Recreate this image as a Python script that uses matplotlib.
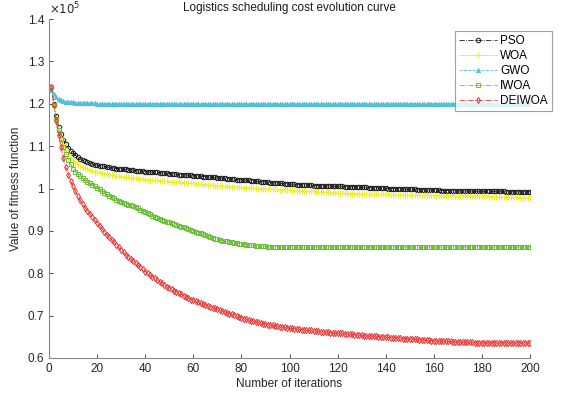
import matplotlib
matplotlib.use("Agg")
import matplotlib.pyplot as plt
from matplotlib.ticker import FuncFormatter, MultipleLocator

plt.rcParams['font.family'] = ['Liberation Sans', 'DejaVu Sans']

iterations = list(range(1, 201))
series_names = ["PSO", "WOA", "GWO", "IWOA", "DEIWOA"]

# values in units of 1e5
pso = [
    1.240, 1.200, 1.170, 1.146, 1.128, 1.115, 1.104, 1.096, 1.089, 1.083,
    1.078, 1.074, 1.070, 1.067, 1.064, 1.062, 1.060, 1.058, 1.056, 1.055,
    1.054, 1.053, 1.052, 1.051, 1.050, 1.049, 1.048, 1.047, 1.047, 1.046,
    1.045, 1.045, 1.044, 1.044, 1.043, 1.042, 1.042, 1.041, 1.041, 1.040,
    1.040, 1.039, 1.039, 1.038, 1.038, 1.037, 1.037, 1.036, 1.036, 1.035,
    1.035, 1.034, 1.034, 1.033, 1.033, 1.032, 1.032, 1.031, 1.031, 1.030,
    1.030, 1.029, 1.029, 1.028, 1.028, 1.027, 1.027, 1.026, 1.026, 1.025,
    1.025, 1.024, 1.024, 1.023, 1.023, 1.022, 1.022, 1.021, 1.021, 1.020,
    1.020, 1.019, 1.019, 1.018, 1.018, 1.017, 1.017, 1.016, 1.016, 1.015,
    1.015, 1.014, 1.014, 1.013, 1.013, 1.012, 1.012, 1.011, 1.011, 1.010,
    1.010, 1.010, 1.009, 1.009, 1.009, 1.008, 1.008, 1.008, 1.008, 1.007,
    1.007, 1.007, 1.007, 1.006, 1.006, 1.006, 1.006, 1.005, 1.005, 1.005,
    1.005, 1.005, 1.004, 1.004, 1.004, 1.004, 1.004, 1.003, 1.003, 1.003,
    1.003, 1.003, 1.002, 1.002, 1.002, 1.002, 1.001, 1.001, 1.001, 1.001,
    1.000, 1.000, 1.000, 1.000, 0.999, 0.999, 0.999, 0.999, 0.998, 0.998,
    0.998, 0.998, 0.997, 0.997, 0.997, 0.997, 0.997, 0.996, 0.996, 0.996,
    0.996, 0.996, 0.995, 0.995, 0.995, 0.995, 0.995, 0.995, 0.994, 0.994,
    0.994, 0.994, 0.994, 0.994, 0.994, 0.993, 0.993, 0.993, 0.993, 0.993,
    0.993, 0.993, 0.993, 0.993, 0.993, 0.993, 0.993, 0.993, 0.993, 0.992,
    0.992, 0.992, 0.992, 0.992, 0.992, 0.992, 0.992, 0.992, 0.992, 0.992,
]

woa = [
    1.240, 1.198, 1.165, 1.140, 1.120, 1.104, 1.092, 1.082, 1.074, 1.067,
    1.062, 1.058, 1.054, 1.051, 1.048, 1.046, 1.044, 1.042, 1.040, 1.038,
    1.037, 1.036, 1.035, 1.034, 1.033, 1.032, 1.031, 1.030, 1.029, 1.028,
    1.027, 1.027, 1.026, 1.025, 1.025, 1.024, 1.023, 1.023, 1.022, 1.021,
    1.021, 1.020, 1.020, 1.019, 1.019, 1.018, 1.018, 1.017, 1.017, 1.016,
    1.016, 1.015, 1.015, 1.015, 1.014, 1.014, 1.013, 1.013, 1.012, 1.012,
    1.011, 1.011, 1.010, 1.010, 1.009, 1.009, 1.008, 1.008, 1.007, 1.007,
    1.006, 1.006, 1.005, 1.005, 1.004, 1.004, 1.004, 1.003, 1.003, 1.003,
    1.002, 1.002, 1.002, 1.001, 1.001, 1.001, 1.000, 1.000, 1.000, 0.999,
    0.999, 0.999, 0.998, 0.998, 0.998, 0.997, 0.997, 0.997, 0.996, 0.996,
    0.996, 0.995, 0.995, 0.995, 0.994, 0.994, 0.994, 0.993, 0.993, 0.993,
    0.992, 0.992, 0.992, 0.991, 0.991, 0.991, 0.990, 0.990, 0.990, 0.990,
    0.989, 0.989, 0.989, 0.989, 0.988, 0.988, 0.988, 0.988, 0.988, 0.987,
    0.987, 0.987, 0.987, 0.987, 0.987, 0.986, 0.986, 0.986, 0.986, 0.986,
    0.986, 0.985, 0.985, 0.985, 0.985, 0.985, 0.985, 0.985, 0.984, 0.984,
    0.984, 0.984, 0.984, 0.984, 0.984, 0.984, 0.984, 0.984, 0.984, 0.984,
    0.983, 0.983, 0.983, 0.983, 0.983, 0.983, 0.983, 0.983, 0.983, 0.983,
    0.983, 0.983, 0.983, 0.983, 0.983, 0.982, 0.982, 0.982, 0.982, 0.982,
    0.982, 0.982, 0.981, 0.981, 0.981, 0.980, 0.980, 0.980, 0.980, 0.980,
    0.979, 0.979, 0.979, 0.979, 0.979, 0.978, 0.978, 0.978, 0.978, 0.978,
]

gwo = [
    1.232, 1.222, 1.215, 1.211, 1.208, 1.206, 1.205, 1.204, 1.203, 1.203,
    1.202, 1.202, 1.202, 1.201, 1.201, 1.201, 1.201, 1.201, 1.201, 1.200,
    1.200, 1.200, 1.200, 1.200, 1.200, 1.200, 1.200, 1.200, 1.200, 1.200,
    1.200, 1.200, 1.200, 1.200, 1.200, 1.200, 1.200, 1.200, 1.200, 1.200,
    1.200, 1.200, 1.200, 1.200, 1.200, 1.200, 1.200, 1.200, 1.200, 1.200,
    1.200, 1.200, 1.200, 1.200, 1.200, 1.200, 1.200, 1.200, 1.200, 1.200,
    1.200, 1.200, 1.200, 1.200, 1.200, 1.200, 1.200, 1.200, 1.200, 1.200,
    1.200, 1.200, 1.200, 1.200, 1.200, 1.200, 1.200, 1.200, 1.200, 1.200,
    1.200, 1.200, 1.200, 1.200, 1.200, 1.200, 1.200, 1.200, 1.200, 1.200,
    1.200, 1.200, 1.200, 1.200, 1.200, 1.200, 1.200, 1.200, 1.200, 1.200,
    1.200, 1.200, 1.200, 1.200, 1.200, 1.200, 1.200, 1.200, 1.200, 1.200,
    1.200, 1.200, 1.200, 1.200, 1.200, 1.200, 1.200, 1.200, 1.200, 1.200,
    1.200, 1.200, 1.200, 1.200, 1.200, 1.200, 1.200, 1.200, 1.200, 1.200,
    1.200, 1.200, 1.200, 1.200, 1.200, 1.200, 1.200, 1.200, 1.200, 1.200,
    1.200, 1.200, 1.200, 1.200, 1.200, 1.200, 1.200, 1.200, 1.200, 1.200,
    1.200, 1.200, 1.200, 1.200, 1.200, 1.200, 1.200, 1.200, 1.200, 1.200,
    1.200, 1.200, 1.200, 1.200, 1.200, 1.200, 1.200, 1.200, 1.200, 1.200,
    1.200, 1.200, 1.200, 1.200, 1.200, 1.200, 1.200, 1.200, 1.200, 1.199,
    1.199, 1.199, 1.199, 1.199, 1.199, 1.199, 1.199, 1.199, 1.199, 1.199,
    1.199, 1.199, 1.199, 1.199, 1.199, 1.199, 1.199, 1.199, 1.199, 1.199,
]

iwoa = [
    1.240, 1.198, 1.165, 1.138, 1.116, 1.097, 1.081, 1.068, 1.057, 1.047,
    1.040, 1.034, 1.029, 1.024, 1.020, 1.016, 1.012, 1.008, 1.005, 1.002,
    0.998, 0.994, 0.990, 0.986, 0.983, 0.980, 0.977, 0.974, 0.971, 0.968,
    0.966, 0.964, 0.962, 0.960, 0.958, 0.956, 0.953, 0.950, 0.947, 0.945,
    0.942, 0.939, 0.936, 0.933, 0.930, 0.928, 0.926, 0.924, 0.922, 0.920,
    0.918, 0.916, 0.914, 0.912, 0.910, 0.908, 0.906, 0.904, 0.902, 0.900,
    0.898, 0.896, 0.894, 0.892, 0.890, 0.888, 0.886, 0.884, 0.882, 0.880,
    0.878, 0.877, 0.876, 0.875, 0.874, 0.873, 0.872, 0.871, 0.870, 0.869,
    0.868, 0.867, 0.867, 0.866, 0.866, 0.865, 0.865, 0.864, 0.864, 0.864,
    0.863, 0.863, 0.863, 0.863, 0.862, 0.862, 0.862, 0.862, 0.862, 0.862,
    0.862, 0.862, 0.862, 0.862, 0.862, 0.862, 0.862, 0.862, 0.862, 0.862,
    0.862, 0.862, 0.862, 0.862, 0.862, 0.862, 0.862, 0.862, 0.862, 0.862,
    0.862, 0.862, 0.862, 0.862, 0.862, 0.862, 0.862, 0.862, 0.862, 0.862,
    0.862, 0.862, 0.862, 0.862, 0.862, 0.862, 0.862, 0.862, 0.862, 0.862,
    0.862, 0.862, 0.862, 0.862, 0.862, 0.862, 0.862, 0.862, 0.862, 0.862,
    0.862, 0.862, 0.862, 0.862, 0.862, 0.862, 0.862, 0.862, 0.862, 0.862,
    0.862, 0.862, 0.862, 0.862, 0.862, 0.862, 0.862, 0.862, 0.862, 0.862,
    0.862, 0.862, 0.862, 0.862, 0.862, 0.862, 0.862, 0.862, 0.862, 0.862,
    0.862, 0.862, 0.862, 0.862, 0.862, 0.862, 0.862, 0.862, 0.862, 0.862,
    0.862, 0.862, 0.862, 0.862, 0.862, 0.862, 0.862, 0.862, 0.862, 0.862,
]

deiwoa = [
    1.240, 1.198, 1.160, 1.126, 1.097, 1.072, 1.051, 1.033, 1.018, 1.005,
    0.993, 0.982, 0.972, 0.963, 0.955, 0.947, 0.940, 0.933, 0.926, 0.919,
    0.912, 0.905, 0.898, 0.891, 0.885, 0.879, 0.873, 0.867, 0.861, 0.855,
    0.849, 0.844, 0.839, 0.834, 0.829, 0.824, 0.819, 0.814, 0.809, 0.804,
    0.800, 0.796, 0.792, 0.788, 0.784, 0.780, 0.776, 0.772, 0.768, 0.765,
    0.762, 0.759, 0.756, 0.753, 0.750, 0.747, 0.744, 0.741, 0.738, 0.736,
    0.734, 0.731, 0.729, 0.727, 0.725, 0.723, 0.721, 0.719, 0.717, 0.715,
    0.713, 0.711, 0.709, 0.707, 0.705, 0.703, 0.701, 0.699, 0.697, 0.695,
    0.693, 0.691, 0.690, 0.688, 0.687, 0.685, 0.684, 0.682, 0.681, 0.680,
    0.679, 0.678, 0.677, 0.676, 0.675, 0.674, 0.673, 0.672, 0.671, 0.670,
    0.670, 0.669, 0.669, 0.668, 0.667, 0.667, 0.666, 0.665, 0.665, 0.664,
    0.664, 0.663, 0.662, 0.662, 0.661, 0.661, 0.660, 0.660, 0.659, 0.659,
    0.658, 0.658, 0.657, 0.657, 0.656, 0.656, 0.655, 0.655, 0.654, 0.654,
    0.653, 0.653, 0.652, 0.652, 0.651, 0.651, 0.650, 0.650, 0.650, 0.649,
    0.649, 0.648, 0.648, 0.648, 0.647, 0.647, 0.646, 0.646, 0.646, 0.645,
    0.645, 0.644, 0.644, 0.643, 0.643, 0.643, 0.642, 0.642, 0.641, 0.641,
    0.641, 0.640, 0.640, 0.640, 0.639, 0.639, 0.639, 0.638, 0.638, 0.638,
    0.638, 0.637, 0.637, 0.637, 0.637, 0.637, 0.636, 0.636, 0.636, 0.636,
    0.636, 0.636, 0.636, 0.636, 0.636, 0.636, 0.636, 0.636, 0.636, 0.636,
    0.636, 0.636, 0.636, 0.636, 0.636, 0.636, 0.636, 0.636, 0.636, 0.636,
]

x_ticks = [0, 20, 40, 60, 80, 100, 120, 140, 160, 180, 200]
y_ticks = [0.6, 0.7, 0.8, 0.9, 1.0, 1.1, 1.2, 1.3, 1.4]
scale = 1e5

fig = plt.figure(figsize=(5.64, 3.96), dpi=100)
ax = fig.add_axes([49/564, 1-358/396, (530-49)/564, (358-19)/396])

styles = [
    dict(color='#1a1a1a', ls='-.', marker='o', mfc='none', ms=3.2, mew=0.7),
    dict(color='#eded3a', ls='-', marker='+', ms=4, mew=0.8),
    dict(color='#4fc0d8', ls='--', marker='^', mfc='#4fc0d8', ms=3.2, mew=0.5),
    dict(color='#6cbf3a', ls='-.', marker='s', mfc='none', ms=3.0, mew=0.7),
    dict(color='#ee3333', ls='-.', marker='d', mfc='none', ms=3.2, mew=0.7),
]
data = [pso, woa, gwo, iwoa, deiwoa]
for name, vals, st in zip(series_names, data, styles):
    ax.plot(iterations, [v * scale for v in vals], lw=0.6, label=name, **st)

ax.set_xlim(0, 200)
ax.set_ylim(0.6 * scale, 1.4 * scale)
ax.set_xticks(x_ticks)
ax.set_yticks([v * scale for v in y_ticks])
ax.yaxis.set_major_formatter(FuncFormatter(lambda v, p: f"{v/scale:g}"))
ax.tick_params(direction='in', length=3, width=0.6, labelsize=8.5,
               colors='#333333', labelcolor='#262626')
for s in ['top', 'right']:
    ax.spines[s].set_visible(False)
for s in ['left', 'bottom']:
    ax.spines[s].set_color('#888888')
    ax.spines[s].set_linewidth(0.8)

ax.set_xlabel("Number of iterations", fontsize=8.5, color='#262626', labelpad=2)
ax.set_ylabel("Value of fitness function", fontsize=8.5, color='#262626', labelpad=4)
ax.set_title("Logistics scheduling cost evolution curve", fontsize=8.5,
             color='#1a1a1a', pad=6)
ax.text(0.0, 1.005, r"$\times10^5$", transform=ax.transAxes, fontsize=8.5,
        color='#262626', ha='left', va='bottom')

leg = ax.legend(loc='upper right', bbox_to_anchor=(552/564, 1-31/396),
                bbox_transform=fig.transFigure, fontsize=8.5, frameon=True,
                fancybox=False, handlelength=3.2, handletextpad=0.3,
                labelspacing=0.25, borderpad=0.35, borderaxespad=0.0)
leg.get_frame().set_edgecolor('#888888')
leg.get_frame().set_linewidth(0.8)

fig.savefig("out.png", dpi=100)
